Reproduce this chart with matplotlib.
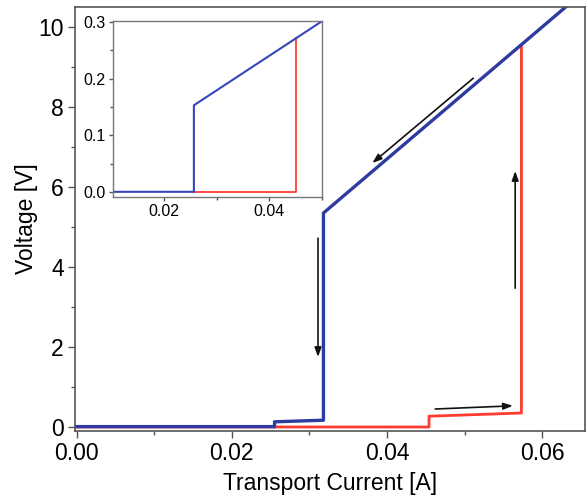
import matplotlib
matplotlib.use('Agg')
import matplotlib.pyplot
from matplotlib.ticker import MultipleLocator

# main sweep (current in A, voltage in V)
blueI = [0.0, 0.0255, 0.0255, 0.0318, 0.0318, 0.0630]
blueV = [0.01, 0.01, 0.13, 0.17, 5.35, 10.5]
redI = [0.0, 0.0454, 0.0454, 0.0573, 0.0573]
redV = [0.0, 0.0, 0.27, 0.35, 9.5]

# inset sweep
insetBlueI = [0.0103, 0.0257, 0.0257, 0.0501]
insetBlueV = [0.0, 0.0, 0.153, 0.302]
insetRedI = [0.0257, 0.0451, 0.0451]
insetRedV = [0.0, 0.0, 0.272]

# arrows: (start I, start V, end I, end V)
arrows = [
    (0.0311, 4.72, 0.0311, 1.75),
    (0.0565, 3.47, 0.0565, 6.40),
    (0.0462, 0.45, 0.0562, 0.53),
    (0.0511, 8.72, 0.0381, 6.60),
]

BLUE = '#2d3c9e'
RED = '#ff3b30'
SPINE = '#555555'

matplotlib.pyplot.rcParams['font.family'] = ['Liberation Sans', 'DejaVu Sans']

f = matplotlib.pyplot.figure(figsize=(5.88, 5.01), dpi=100)
ax = f.add_axes([0.1276, 0.1397, 0.8674, 0.8463])
ax.plot(redI, redV, color=RED, lw=2.0)
ax.plot(blueI, blueV, color=BLUE, lw=2.4)
for x0, y0, x1, y1 in arrows:
    ax.annotate('', xy=(x1, y1), xytext=(x0, y0),
                arrowprops=dict(arrowstyle='-|>,head_length=0.5,head_width=0.18', color='#111111', lw=1.2,
                                mutation_scale=11, shrinkA=0, shrinkB=0))
ax.set_xlim(-0.0002, 0.0655)
ax.set_ylim(-0.1, 10.5)
ax.xaxis.set_major_locator(MultipleLocator(0.02))
ax.xaxis.set_minor_locator(MultipleLocator(0.01))
ax.yaxis.set_major_locator(MultipleLocator(2))
ax.yaxis.set_minor_locator(MultipleLocator(1))
ax.xaxis.set_major_formatter(matplotlib.ticker.FormatStrFormatter('%.2f'))
ax.tick_params(which='major', direction='out', length=5, width=1, color=SPINE, labelsize=16.5, pad=3)
ax.tick_params(which='minor', direction='out', length=3, width=1, color=SPINE)
ax.tick_params(top=False, right=False)
for s in ax.spines.values():
    s.set_color(SPINE)
    s.set_linewidth(1.2)
ax.set_xlabel('Transport Current [A]', fontsize=16.5, labelpad=5)
ax.set_ylabel('Voltage [V]', fontsize=16.5, labelpad=0)

ins = f.add_axes([0.192, 0.607, 0.356, 0.351])
ins.plot(insetRedI, insetRedV, color=RED, lw=1.3)
ins.plot(insetBlueI, insetBlueV, color='#3547b8', lw=1.5)
ins.set_xlim(0.0103, 0.0501)
ins.set_ylim(-0.009, 0.302)
ins.xaxis.set_major_locator(MultipleLocator(0.02))
ins.xaxis.set_minor_locator(MultipleLocator(0.01))
ins.yaxis.set_major_locator(MultipleLocator(0.1))
ins.yaxis.set_minor_locator(MultipleLocator(0.05))
ins.yaxis.set_major_formatter(matplotlib.ticker.FormatStrFormatter('%.1f'))
ins.xaxis.set_major_formatter(matplotlib.ticker.FormatStrFormatter('%.2f'))
ins.tick_params(which='major', direction='out', length=3, width=1, color=SPINE, labelsize=11.5, pad=2)
ins.tick_params(which='minor', direction='out', length=2, width=1, color=SPINE)
for s in ins.spines.values():
    s.set_color('#777777')
    s.set_linewidth(1.0)

matplotlib.pyplot.savefig('out.png', dpi=100)
matplotlib.pyplot.close('all')
